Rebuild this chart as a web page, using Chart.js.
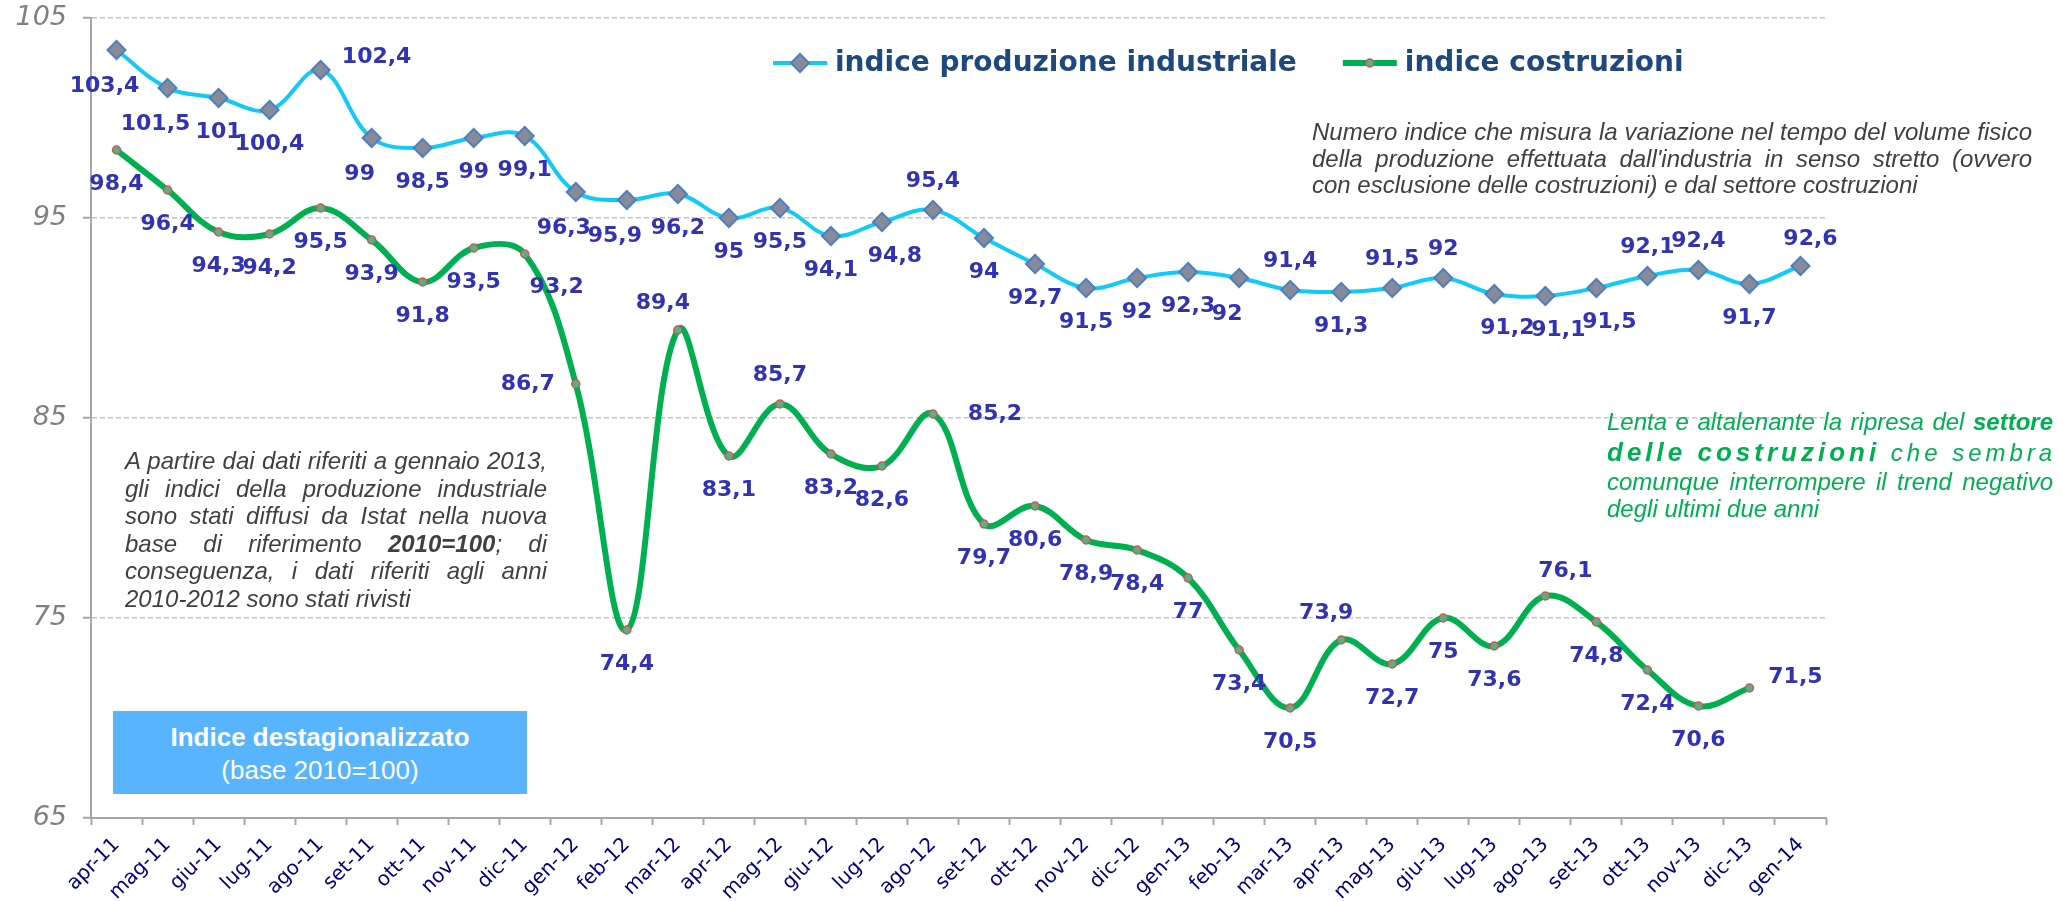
<!DOCTYPE html>
<html>
<head>
<meta charset="utf-8">
<script src="https://cdn.jsdelivr.net/npm/chart.js@4.4.1/dist/chart.umd.min.js"></script>
<style>
  html, body { margin: 0; padding: 0; background: #fff; }
  #wrap { position: relative; width: 2063px; height: 901px; overflow: hidden; }
  #chart { position: absolute; left: 0; top: 0; }
  .note { position: absolute; font-family: "Liberation Sans", Arial, sans-serif; font-style: italic; font-size: 24px; color: #404040; }
  .note div { text-align: justify; text-align-last: justify; white-space: nowrap; }
  .note div.last { text-align: left; text-align-last: left; }
  #noteTop { left: 1312px; top: 119px; width: 720px; line-height: 26.5px; }
  #noteLeft { left: 125px; top: 447px; width: 422px; line-height: 27.5px; }
  #noteGreen { left: 1607px; top: 407px; width: 446px; color: #00b050; }
  #box { position: absolute; left: 113px; top: 711px; width: 414px; height: 83px; background: #58b4fc;
         color: #fff; font-family: "Liberation Sans", Arial, sans-serif; font-size: 26px; text-align: center;
         line-height: 33px; box-sizing: border-box; padding-top: 10px; }
</style>
</head>
<body>
<div id="wrap">
  <canvas id="chart" width="2063" height="901"></canvas>

  <div class="note" id="noteTop">
    <div>Numero indice che misura la variazione nel tempo del volume fisico</div>
    <div>della produzione effettuata dall'industria in senso stretto (ovvero</div>
    <div class="last">con esclusione delle costruzioni) e dal settore costruzioni</div>
  </div>

  <div class="note" id="noteLeft">
    <div>A partire dai dati riferiti a gennaio 2013,</div>
    <div>gli indici della produzione industriale</div>
    <div>sono stati diffusi da Istat nella nuova</div>
    <div>base di riferimento <b>2010=100</b>; di</div>
    <div>conseguenza, i dati riferiti agli anni</div>
    <div class="last">2010-2012 sono stati rivisti</div>
  </div>

  <div class="note" id="noteGreen">
    <div style="line-height:30px">Lenta e altalenante la ripresa del <b>settore</b></div>
    <div style="line-height:31px; letter-spacing:4px"><b style="font-size:26px">delle costruzioni</b> che sembra</div>
    <div style="line-height:28px">comunque interrompere il trend negativo</div>
    <div class="last" style="line-height:26px">degli ultimi due anni</div>
  </div>

  <div id="box"><b>Indice destagionalizzato</b><br>(base 2010=100)</div>
</div>

<script>
const labels = [
    'apr-11', 'mag-11', 'giu-11', 'lug-11', 'ago-11', 'set-11', 'ott-11', 'nov-11', 'dic-11',
    'gen-12', 'feb-12', 'mar-12', 'apr-12', 'mag-12', 'giu-12', 'lug-12', 'ago-12', 'set-12',
    'ott-12', 'nov-12', 'dic-12', 'gen-13', 'feb-13', 'mar-13', 'apr-13', 'mag-13', 'giu-13',
    'lug-13', 'ago-13', 'set-13', 'ott-13', 'nov-13', 'dic-13', 'gen-14'
];

const produzione = [
    103.4, 101.5, 101, 100.4, 102.4, 99, 98.5, 99, 99.1,
    96.3, 95.9, 96.2, 95, 95.5, 94.1, 94.8, 95.4, 94,
    92.7, 91.5, 92, 92.3, 92, 91.4, 91.3, 91.5, 92,
    91.2, 91.1, 91.5, 92.1, 92.4, 91.7, 92.6
];

const costruzioni = [
    98.4, 96.4, 94.3, 94.2, 95.5, 93.9, 91.8, 93.5, 93.2,
    86.7, 74.4, 89.4, 83.1, 85.7, 83.2, 82.6, 85.2, 79.7,
    80.6, 78.9, 78.4, 77, 73.4, 70.5, 73.9, 72.7, 75,
    73.6, 76.1, 74.8, 72.4, 70.6, 71.5
];

const yTicks = [65, 75, 85, 95, 105];

// where each value label sits around its point
const posProduzione = [
    'bl', 'bl', 'b', 'b', 'RR', 'bl', 'b', 'b', 'b',
    'bl', 'bl', 'b', 'b', 'b', 'b', 'br', 'a', 'b',
    'b', 'b', 'b', 'b', 'bl', 'a', 'b', 'a', 'a',
    'br', 'br', 'br', 'a', 'a', 'b', 'ax'
];
const posCostruzioni = [
    'b', 'b', 'b', 'b', 'b', 'b', 'b', 'b', 'bR',
    'l', 'b', 'al', 'b', 'a', 'b', 'b', 'r', 'b',
    'b', 'b', 'b', 'b', 'b', 'b', 'al', 'b', 'b',
    'b', 'ar', 'b', 'b', 'b', 'R'
];

const OFF = {
    b: [0, 34], bl: [-12, 36], br: [13, 34], bR: [32, 33],
    a: [0, -29], al: [-15, -27], ar: [20, -25], ax: [10, -27],
    l: [-48, 0], r: [62, 0], R: [46, -11], RR: [56, -13]
};

// value labels, comma decimals like the original
const valueLabels = {
    id: 'valueLabels',
    afterDatasetsDraw(chart) {
        const ctx = chart.ctx;
        ctx.save();
        ctx.font = 'bold 22px "DejaVu Sans"';
        ctx.fillStyle = '#3232b4';
        ctx.textAlign = 'center';
        ctx.textBaseline = 'middle';
        chart.data.datasets.forEach((ds, i) => {
            chart.getDatasetMeta(i).data.forEach((pt, j) => {
                const o = OFF[ds.labelPos[j]] || OFF.b;
                ctx.fillText(String(ds.data[j]).replace('.', ','), pt.x + o[0], pt.y + o[1]);
            });
        });
        ctx.restore();
    }
};

// legend with line + marker, like excel
const lineLegend = {
    id: 'lineLegend',
    afterDraw(chart) {
        const ctx = chart.ctx;
        let x = 773;
        const y = 63;
        ctx.save();
        ctx.font = 'bold 28px "DejaVu Sans"';
        ctx.textBaseline = 'middle';
        chart.data.datasets.forEach(ds => {
            ctx.strokeStyle = ds.borderColor;
            ctx.lineWidth = ds.borderWidth;
            ctx.beginPath();
            ctx.moveTo(x, y);
            ctx.lineTo(x + 54, y);
            ctx.stroke();
            ctx.fillStyle = ds.pointBackgroundColor;
            ctx.strokeStyle = ds.pointBorderColor;
            ctx.lineWidth = ds.pointBorderWidth;
            Chart.helpers.drawPoint(ctx, {
                pointStyle: ds.pointStyle, radius: ds.pointRadius,
                borderWidth: ds.pointBorderWidth, rotation: 0
            }, x + 27, y);
            ctx.fillStyle = '#1f497d';
            ctx.fillText(ds.label, x + 62, y + 1);
            x += 62 + ctx.measureText(ds.label).width + 46;
        });
        ctx.restore();
    }
};

const data = {
    labels: labels,
    datasets: [{
        label: 'indice produzione industriale',
        data: produzione,
        labelPos: posProduzione,
        borderColor: '#10cafa',
        borderWidth: 4,
        tension: 0.38,
        pointStyle: 'rectRot',
        pointRadius: 9,
        pointBackgroundColor: '#878a98',
        pointBorderColor: '#4f7fbf',
        pointBorderWidth: 2,
        clip: false
    }, {
        label: 'indice costruzioni',
        data: costruzioni,
        labelPos: posCostruzioni,
        borderColor: '#00b050',
        borderWidth: 6,
        tension: 0.38,
        pointStyle: 'circle',
        pointRadius: 4,
        pointBackgroundColor: '#4fb48a',
        pointBorderColor: '#d9534f',
        pointBorderWidth: 1.5,
        clip: false
    }]
};

const config = {
    type: 'line',
    data: data,
    options: {
        responsive: false,
        animation: false,
        devicePixelRatio: 1,
        layout: { padding: { top: 18, right: 237, bottom: 0, left: 0 } },
        plugins: {
            legend: { display: false },
            tooltip: { enabled: false }
        },
        scales: {
            x: {
                offset: true,
                grid: { drawOnChartArea: false, offset: true, tickLength: 7, tickColor: '#a6a6a6', tickWidth: 2 },
                border: { color: '#a6a6a6', width: 2 },
                ticks: {
                    color: '#000080',
                    font: { family: 'DejaVu Sans', size: 20 },
                    maxRotation: 45, minRotation: 45,
                    autoSkip: false, padding: 8
                },
                afterFit(s) { s.height = 83; }
            },
            y: {
                min: yTicks[0],
                max: yTicks[yTicks.length - 1],
                grid: { color: '#c4c4c4', lineWidth: 1.5, tickLength: 8, tickColor: '#a6a6a6', tickWidth: 2 },
                border: { color: '#a6a6a6', width: 2, dash: [5, 3] },
                ticks: {
                    stepSize: yTicks[1] - yTicks[0],
                    color: '#808080',
                    font: { family: 'DejaVu Sans', size: 27, style: 'italic' },
                    padding: 16
                },
                afterFit(s) {
                    s.width = 91;
                    s.paddingTop = 0;
                    s.paddingBottom = 0;
                }
            }
        }
    },
    plugins: [valueLabels, lineLegend]
};

new Chart(document.getElementById('chart'), config);
</script>
</body>
</html>
